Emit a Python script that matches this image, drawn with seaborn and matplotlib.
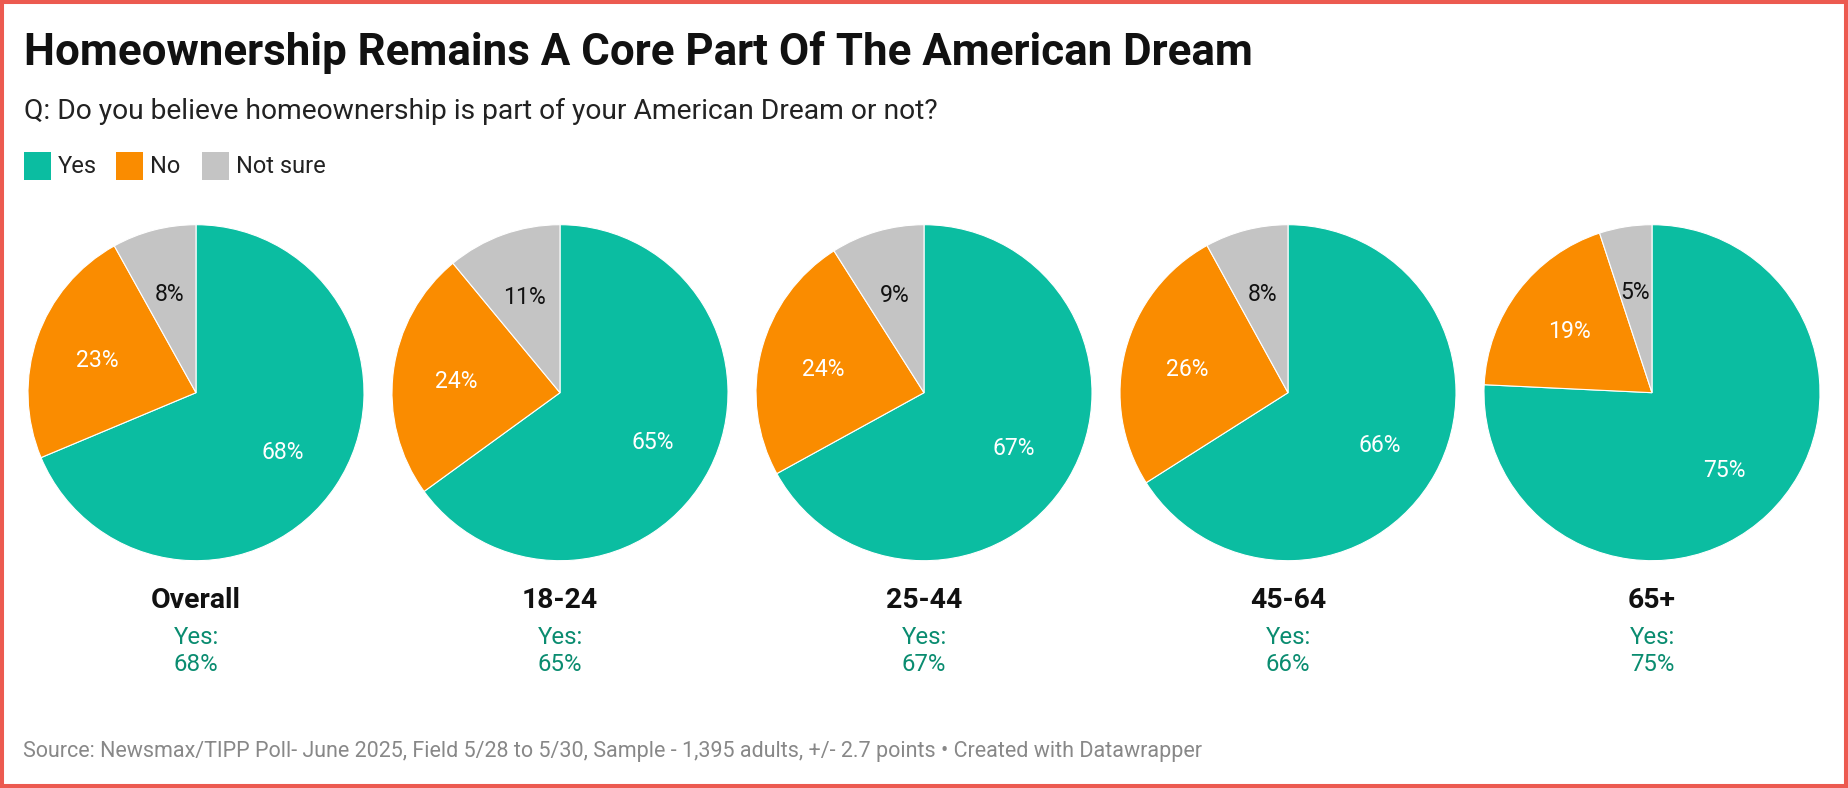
# Homeownership and the American Dream - pies by age group

import matplotlib.pyplot as plt
from matplotlib.patches import Rectangle
import seaborn as sns

# data
groups = ['Overall', '18-24', '25-44', '45-64', '65+']
yes = [68, 65, 67, 66, 75]
no = [23, 24, 24, 26, 19]
not_sure = [8, 11, 9, 8, 5]
answers = ['Yes', 'No', 'Not sure']

title = 'Homeownership Remains A Core Part Of The American Dream'
subtitle = 'Q: Do you believe homeownership is part of your American Dream or not?'
source = ('Source: Newsmax/TIPP Poll- June 2025, Field 5/28 to 5/30, Sample - 1,395 adults, '
          '+/- 2.7 points \u2022 Created with Datawrapper')

sns.set_theme(style='white')
plt.rcParams['font.family'] = ['Roboto', 'DejaVu Sans']

colors = sns.color_palette(['#0bbda1', '#fa8c00', '#c4c4c4'])
label_colors = ['white', 'white', '#111111']
yes_text = '#0a8c70'

W, H = 1848, 788
fig = plt.figure(figsize=(W / 100, H / 100), dpi=100)
fig.patch.set_facecolor('white')


def fx(px):
    return px / W


def fy(py):
    # py measured from the top of the image
    return 1 - py / H


# frame
fig.patches.append(Rectangle((0, 0), 1, 1, transform=fig.transFigure, fill=False,
                             edgecolor='#ec5a50', linewidth=5.8, clip_on=False))

fig.text(fx(24), fy(65), title, fontsize=31.6, fontweight='bold', color='#111111', va='baseline')
fig.text(fx(24), fy(119), subtitle, fontsize=20.3, color='#222222', va='baseline')

# legend
leg_x = [24, 116, 202]
for x, lab, c in zip(leg_x, answers, colors):
    fig.patches.append(Rectangle((fx(x), fy(180)), fx(27), 28 / H, transform=fig.transFigure,
                                 facecolor=c, edgecolor='none'))
    fig.text(fx(x + 34), fy(173), lab, fontsize=17, color='#222222', va='baseline')

# pies
radius = 168
centers = [196, 560, 924, 1288, 1652]
cy = 392.7
for i, g in enumerate(groups):
    vals = [yes[i], no[i], not_sure[i]]
    cx = centers[i]
    ax = fig.add_axes([fx(cx - radius), fy(cy + radius), 2 * radius / W, 2 * radius / H])
    wedges, texts, autotexts = ax.pie(vals, colors=colors, startangle=90, counterclock=False,
                                      autopct='%1.0f%%', pctdistance=0.62, radius=1,
                                      wedgeprops={'edgecolor': 'white', 'linewidth': 0.8})
    for t, v, c in zip(autotexts, vals, label_colors):
        t.set_text(f'{v}%')
        t.set_color(c)
        t.set_fontsize(16.6)
        px, py = t.get_position()
        t.set_position((px, py - 0.014))
    ax.set_xlim(-1, 1)
    ax.set_ylim(-1, 1)
    ax.set_aspect('equal')
    ax.axis('off')

    fig.text(fx(cx), fy(608), g, fontsize=20.4, fontweight='bold', color='#111111',
             ha='center', va='baseline')
    fig.text(fx(cx), fy(644), 'Yes:', fontsize=17.3, color=yes_text, ha='center', va='baseline')
    fig.text(fx(cx), fy(671), f'{yes[i]}%', fontsize=17.3, color=yes_text, ha='center', va='baseline')

fig.text(fx(23), fy(757), source, fontsize=15.5, color='#888888', va='baseline')

fig.savefig('out.png', dpi=100, facecolor='white')
